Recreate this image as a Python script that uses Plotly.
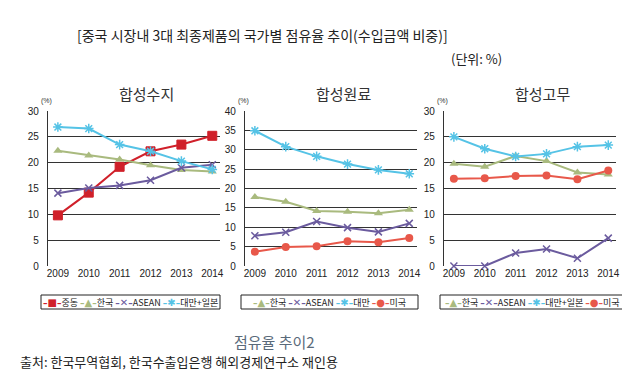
import plotly.graph_objects as go

years = [2009, 2010, 2011, 2012, 2013, 2014]

# 합성수지
p1_mideast = [9.8, 14.2, 19.2, 22.2, 23.5, 25.2]
p1_korea = [22.3, 21.4, 20.6, 19.5, 18.6, 18.3]
p1_asean = [14.1, 15.1, 15.6, 16.6, 19.0, 19.6]
p1_twjp = [26.9, 26.6, 23.5, 22.2, 20.3, 18.7]

# 합성원료
p2_korea = [17.8, 16.6, 14.2, 14.0, 13.6, 14.5]
p2_asean = [7.8, 8.7, 11.5, 9.9, 8.8, 11.0]
p2_tw = [34.9, 30.8, 28.3, 26.3, 24.8, 23.8]
p2_us = [3.7, 4.9, 5.1, 6.4, 6.1, 7.2]

# 합성고무
p3_korea = [19.8, 19.2, 21.3, 20.3, 18.1, 17.7]
p3_asean = [0.0, 0.0, 2.5, 3.3, 1.5, 5.4]
p3_twjp = [25.0, 22.7, 21.2, 21.7, 23.1, 23.4]
p3_us = [16.9, 17.0, 17.4, 17.5, 16.8, 18.5]

panel_titles = ["합성수지", "합성원료", "합성고무"]
y_max = [30, 40, 30]

C_RED = "#D0202A"
C_KOR = "#A9BA7E"
C_ASEAN = "#6B5B9E"
C_BLUE = "#55C3E6"
C_US = "#E8584A"

FONT = "Noto Sans CJK KR"
NUM_FONT = "Liberation Sans"

fig = go.Figure()

def add(xaxis, yaxis, name, y, color, symbol, msize, lw=2, mline=None):
    marker = dict(symbol=symbol, size=msize, color=color)
    if mline is not None:
        marker["line"] = dict(color=color, width=mline)
    fig.add_trace(go.Scatter(
        x=years, y=y, name=name, mode="lines+markers",
        line=dict(color=color, width=lw), marker=marker, cliponaxis=False,
        xaxis=xaxis, yaxis=yaxis, showlegend=False))

add("x", "y", "중동", p1_mideast, C_RED, "square", 9, mline=1)
add("x", "y", "한국", p1_korea, C_KOR, "triangle-up", 8)
add("x", "y", "ASEAN", p1_asean, C_ASEAN, "x-thin-open", 7, mline=1.5)
add("x", "y", "대만+일본", p1_twjp, C_BLUE, "asterisk-open", 8, mline=1.5)

add("x2", "y2", "한국", p2_korea, C_KOR, "triangle-up", 8)
add("x2", "y2", "ASEAN", p2_asean, C_ASEAN, "x-thin-open", 7, mline=1.5)
add("x2", "y2", "대만", p2_tw, C_BLUE, "asterisk-open", 8, mline=1.5)
add("x2", "y2", "미국", p2_us, C_US, "circle", 8)

add("x3", "y3", "한국", p3_korea, C_KOR, "triangle-up", 8)
add("x3", "y3", "ASEAN", p3_asean, C_ASEAN, "x-thin-open", 7, mline=1.5)
add("x3", "y3", "대만+일본", p3_twjp, C_BLUE, "asterisk-open", 8, mline=1.5)
add("x3", "y3", "미국", p3_us, C_US, "circle", 8)

W, H = 630, 386
xdoms = [(40, 212), (237, 409), (436, 608)]
ytop, ybot = 103, 258
ydom = [1 - ybot / H, 1 - ytop / H]

layout = dict(
    width=W, height=H, margin=dict(l=0, r=0, t=0, b=0, autoexpand=False),
    paper_bgcolor="white", plot_bgcolor="white",
    font=dict(family=FONT, color="#222"),
    annotations=[], shapes=[], showlegend=False,
)

for i, (x0, x1) in enumerate(xdoms):
    sfx = "" if i == 0 else str(i + 1)
    layout["xaxis" + sfx] = dict(
        domain=[x0 / W, x1 / W], range=[2008.68, 2014.25],
        tickvals=years, ticktext=[str(y) for y in years], tickangle=0,
        showgrid=False, zeroline=False, showline=False, ticks="",
        ticklabelstandoff=0, automargin=False,
        tickfont=dict(family=NUM_FONT, size=10, color="#222"),
        anchor="y" + sfx, fixedrange=True)
    layout["yaxis" + sfx] = dict(
        domain=ydom, range=[0, y_max[i]], dtick=5,
        showgrid=True, gridcolor="#333", gridwidth=1.3,
        zeroline=False, showline=True, linecolor="#333", linewidth=1.3,
        ticks="", ticklabelstandoff=6, automargin=False,
        tickfont=dict(family=NUM_FONT, size=10, color="#222"),
        anchor="x" + sfx, fixedrange=True)
    cx = (x0 + x1) / 2 / W + 0.02
    layout["annotations"].append(dict(
        text=panel_titles[i], x=cx, y=1 - 85 / H, xref="paper", yref="paper",
        showarrow=False, font=dict(size=15, color="#333", family=FONT),
        xanchor="center", yanchor="middle"))
    layout["annotations"].append(dict(
        text="(%)", x=(x0 - 2) / W, y=1 - 93 / H, xref="paper", yref="paper",
        showarrow=False, font=dict(size=7, color="#333", family=NUM_FONT),
        xanchor="center", yanchor="middle"))

# custom compact legends (box + coloured symbol glyphs + labels)
legend_names = [
    ["중동", "한국", "ASEAN", "대만+일본"],
    ["한국", "ASEAN", "대만", "미국"],
    ["한국", "ASEAN", "대만+일본", "미국"],
]
legend_colors = [
    [C_RED, C_KOR, C_ASEAN, C_BLUE],
    [C_KOR, C_ASEAN, C_BLUE, C_US],
    [C_KOR, C_ASEAN, C_BLUE, C_US],
]
legend_glyphs = [
    ["■", "▲", "✕", "✱"],
    ["▲", "✕", "✱", "●"],
    ["▲", "✕", "✱", "●"],
]
legend_boxes = [(33, 212), (233, 410), (432, 617)]
for i, (lx0, lx1) in enumerate(legend_boxes):
    layout["shapes"].append(dict(
        type="rect", xref="paper", yref="paper",
        x0=lx0 / W, x1=lx1 / W, y0=1 - 301 / H, y1=1 - 287 / H,
        line=dict(color="#222", width=1), fillcolor="white", layer="below"))
    parts = []
    for name, col, g in zip(legend_names[i], legend_colors[i], legend_glyphs[i]):
        parts.append(
            f'<span style="color:{col};font-family:DejaVu Sans">'
            f'<b>–</b><span style="font-size:10px">{g}</span><b>–</b></span>{name}')
    layout["annotations"].append(dict(
        text=" ".join(parts), x=(lx0 + lx1) / 2 / W, y=1 - 294 / H,
        xref="paper", yref="paper", showarrow=False,
        xanchor="center", yanchor="middle",
        font=dict(size=9, color="#222", family=FONT)))

layout["annotations"] += [
    dict(text="[중국 시장내 3대 최종제품의 국가별 점유율 추이(수입금액 비중)]",
         x=254 / W, y=1 - 27 / H, xref="paper", yref="paper", showarrow=False,
         xanchor="center", yanchor="middle",
         font=dict(size=14, color="#222", family=FONT)),
    dict(text="(단위: %)", x=496 / W, y=1 - 50 / H, xref="paper", yref="paper",
         showarrow=False, xanchor="right", yanchor="middle",
         font=dict(size=13, color="#222", family=FONT)),
    dict(text="점유율 추이2", x=266 / W, y=1 - 333 / H, xref="paper", yref="paper",
         showarrow=False, xanchor="center", yanchor="middle",
         font=dict(size=15, color="#5a6a7a", family=FONT)),
    dict(text="출처: 한국무역협회, 한국수출입은행 해외경제연구소 재인용",
         x=10 / W, y=1 - 353 / H, xref="paper", yref="paper", showarrow=False,
         xanchor="left", yanchor="middle",
         font=dict(size=13, color="#222", family=FONT)),
]

fig.update_layout(**layout)
fig.write_html("out.html")
